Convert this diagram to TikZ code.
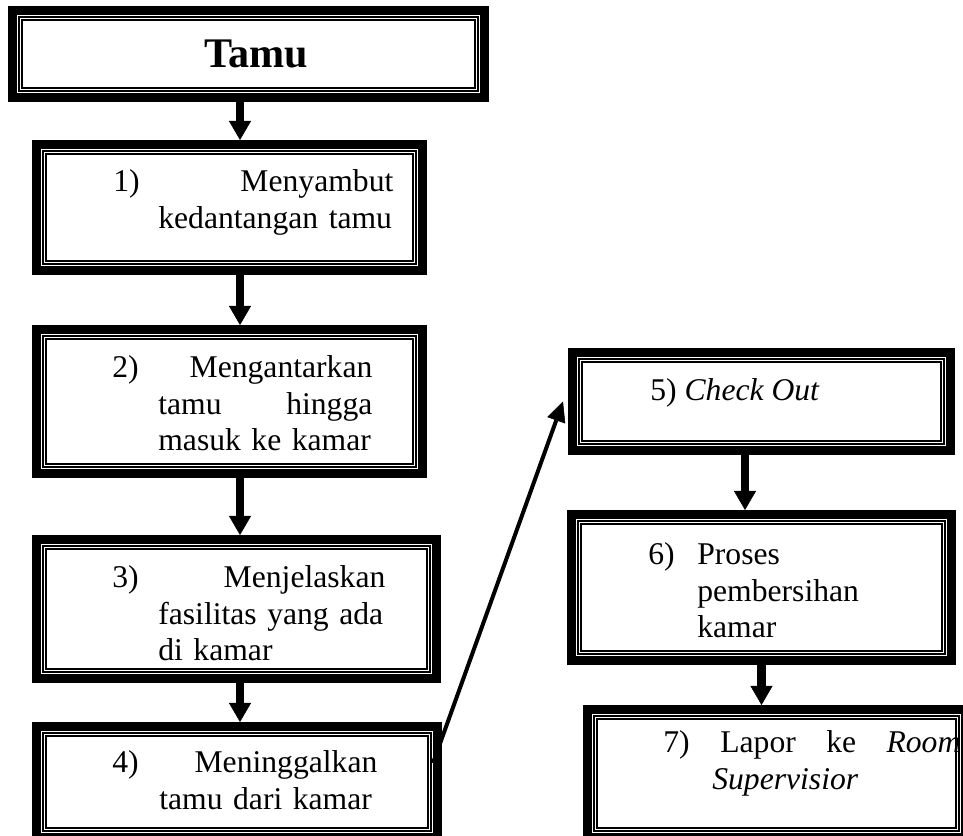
\documentclass[tikz,border=0pt]{standalone}
\usepackage{fontspec}
\setmainfont{Liberation Serif}
\usetikzlibrary{arrows.meta}

\tikzstyle{stepbox} = [rectangle, draw=black, line width=0.18cm, fill=white, inner sep=0pt,
  path picture={\draw[line width=0.03cm, double, double distance=0.03cm]
    ([shift={(0.16cm,-0.16cm)}]path picture bounding box.north west) rectangle
    ([shift={(-0.16cm,0.16cm)}]path picture bounding box.south east);}]
\tikzstyle{steptext} = [anchor=base west, align=left, inner sep=0pt, font=\fontsize{18}{20.7}\selectfont]
\tikzstyle{flow} = [line width=0.17cm, -{Triangle[length=0.38cm, width=0.44cm, line width=0.01cm]}]
\tikzstyle{jump} = [line width=0.08cm, -{Triangle[length=0.4cm, width=0.38cm, line width=0.01cm]}]

\begin{document}
\begin{tikzpicture}
  \useasboundingbox (0,0) rectangle (19.26,16.72);
  \coordinate (colA) at (4.8,0);
  \coordinate (colB) at (14.9,0);

  % left column
  \node (tamu) [stepbox, minimum width=9.44cm, minimum height=1.74cm, font=\fontsize{24}{28}\selectfont\bfseries] at (4.97,15.64) {\hspace*{0.3cm}Tamu};
  \node (s1) [stepbox, minimum width=7.72cm, minimum height=2.52cm] at (4.59,12.57) {};
  \node (s2) [stepbox, minimum width=7.72cm, minimum height=2.88cm] at (4.59,8.69) {};
  \node (s3) [stepbox, minimum width=8.0cm, minimum height=2.78cm] at (4.73,4.54) {};
  \node (s4) [stepbox, minimum width=8.02cm, minimum height=2.22cm] at (4.74,1.08) {};

  % right column
  \node (s5) [stepbox, minimum width=7.56cm, minimum height=1.96cm] at (15.23,8.69) {};
  \node (s6) [stepbox, minimum width=7.6cm, minimum height=2.92cm] at (15.23,4.97) {};
  \node (s7) [stepbox, minimum width=7.56cm, minimum height=2.56cm] at (15.53,1.25) {};

  \node (t1) [steptext, text width=5.6cm] at (2.26,12.88) {1)\hfill Menyambut\\\hspace*{0.9cm}kedantangan tamu};
  \node (t2) [steptext, text width=5.2cm] at (2.24,9.16) {2)\hfill Mengantarkan\\\hspace*{0.92cm}tamu\hfill hingga\\\hspace*{0.92cm}masuk ke kamar};
  \node (t3) [steptext, text width=5.46cm] at (2.24,4.96) {3)\hfill Menjelaskan\\\hspace*{0.92cm}fasilitas yang ada\\\hspace*{0.92cm}di kamar};
  \node (t4) [steptext, text width=5.3cm] at (2.24,1.26) {4)\hfill Meninggalkan\\\hspace*{0.94cm}\mbox{tamu dari kamar}};
  \node (t5) [steptext] at (13.0,8.7) {5) \textit{Check Out}};
  \node (t6) [steptext, text width=5cm] at (12.96,5.42) {\makebox[0.98cm][l]{6)}Proses\\\hspace*{0.98cm}pembersihan\\\hspace*{0.98cm}kamar};
  \node (t7) [steptext, text width=5.94cm] at (13.26,1.66) {\makebox[1.14cm][l]{7)}Lapor\hfill ke\hfill\textit{Room}\\\hspace*{0.98cm}\textit{Supervisior}};

  \draw [flow] (tamu.south -| colA) -- (s1.north -| colA);
  \draw [flow] (s1.south -| colA) -- (s2.north -| colA);
  \draw [flow] (s2.south -| colA) -- (s3.north -| colA);
  \draw [flow] (s3.south -| colA) -- (s4.north -| colA);
  \draw [jump] ([shift={(-0.18cm,0.38cm)}]s4.east) -- ([xshift=-0.1cm]s5.west);
  \draw [flow] (s5.south -| colB) -- (s6.north -| colB);
  \draw [flow] (s6.south) -- (s6.south |- s7.north);
\end{tikzpicture}
\end{document}
